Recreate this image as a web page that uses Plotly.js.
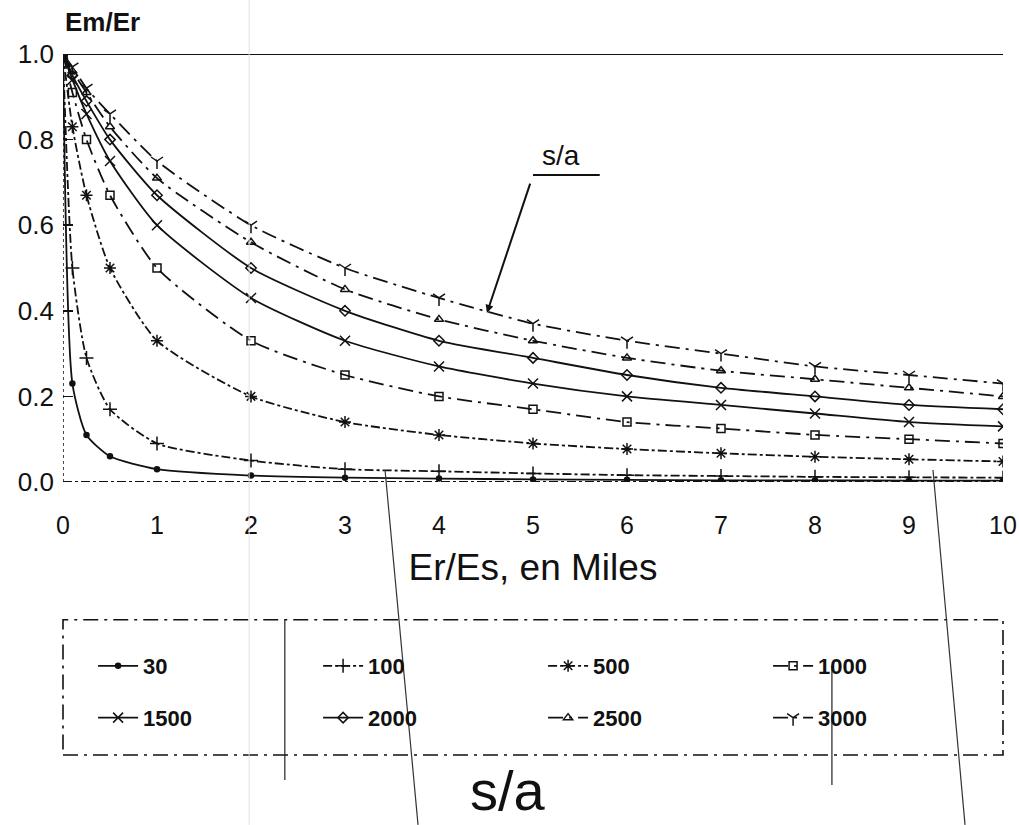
<!DOCTYPE html>
<html>
<head>
<meta charset="utf-8">
<script src="https://cdn.plot.ly/plotly-3.0.1.min.js"></script>
<style>html,body{margin:0;padding:0;background:#fff;}#chart{width:1019px;height:825px;}</style>
</head>
<body>
<div id="chart"></div>
<script>
// Er/Es (thousands)
const erEs = [0, 0.1, 0.25, 0.5, 1, 2, 3, 4, 5, 6, 7, 8, 9, 10];
// Em/Er for each s/a value
const sa30   = [1, 0.23, 0.11, 0.06, 0.03, 0.015, 0.01, 0.008, 0.006, 0.005, 0.004, 0.004, 0.003, 0.003];
const sa100  = [1, 0.50, 0.29, 0.17, 0.09, 0.05, 0.03, 0.025, 0.02, 0.016, 0.014, 0.012, 0.011, 0.01];
const sa500  = [1, 0.83, 0.67, 0.50, 0.33, 0.20, 0.14, 0.11, 0.09, 0.077, 0.067, 0.059, 0.053, 0.048];
const sa1000 = [1, 0.91, 0.80, 0.67, 0.50, 0.33, 0.25, 0.20, 0.17, 0.14, 0.125, 0.11, 0.10, 0.09];
const sa1500 = [1, 0.94, 0.86, 0.75, 0.60, 0.43, 0.33, 0.27, 0.23, 0.20, 0.18, 0.16, 0.14, 0.13];
const sa2000 = [1, 0.95, 0.89, 0.80, 0.67, 0.50, 0.40, 0.33, 0.29, 0.25, 0.22, 0.20, 0.18, 0.17];
const sa2500 = [1, 0.96, 0.91, 0.83, 0.71, 0.56, 0.45, 0.38, 0.33, 0.29, 0.26, 0.24, 0.22, 0.20];
const sa3000 = [1, 0.97, 0.92, 0.86, 0.75, 0.60, 0.50, 0.43, 0.37, 0.33, 0.30, 0.27, 0.25, 0.23];

const seriesNames = ['30', '100', '500', '1000', '1500', '2000', '2500', '3000'];
const seriesData = [sa30, sa100, sa500, sa1000, sa1500, sa2000, sa2500, sa3000];
const yTickVals = [0, 0.2, 0.4, 0.6, 0.8, 1.0];
const xTickVals = [0, 1, 2, 3, 4, 5, 6, 7, 8, 9, 10];

const symbols = ['circle', 'cross-thin-open', 'asterisk-open', 'square-open', 'x-thin-open', 'diamond-open', 'triangle-up-open', 'y-down-open'];
const dashes = ['solid', 'dashdot', 'dashdot', 'longdashdot', 'solid', 'solid', 'longdashdot', 'longdashdot'];
const msizes = [5, 10, 10, 8, 10, 8, 8, 10];

const ink = '#111';
const traces = seriesNames.map((n, i) => ({
  x: erEs, y: seriesData[i], name: n, type: 'scatter', mode: 'lines+markers',
  line: {color: ink, width: 1.8, dash: dashes[i], shape: 'spline', smoothing: 0.6},
  marker: {symbol: symbols[i], size: msizes[i], color: ink, line: {color: ink, width: 1.5}},
  legend: i < 4 ? 'legend' : 'legend2'
}));

const legendBase = {
  orientation: 'h', xanchor: 'left', yanchor: 'middle', x: 0.032,
  entrywidth: 170, entrywidthmode: 'pixels',
  font: {family: 'Liberation Sans, Arial, sans-serif', size: 22, color: ink, weight: 'bold'},
  bgcolor: 'rgba(0,0,0,0)', borderwidth: 0, itemwidth: 40
};

const layout = {
  width: 1019, height: 825,
  margin: {l: 63, r: 16, t: 54, b: 343},
  paper_bgcolor: '#fff', plot_bgcolor: '#fff',
  font: {family: 'Liberation Sans, Arial, sans-serif', color: ink},
  showlegend: true,
  xaxis: {
    range: [0, 10], tickvals: xTickVals, showgrid: false, zeroline: false, showline: false,
    ticks: '', tickfont: {size: 25, color: ink}, ticklabelstandoff: 26,
    title: {text: 'Er/Es, en Miles', font: {size: 37, color: ink}, standoff: 16}
  },
  yaxis: {
    range: [0, 1.0], tickvals: yTickVals, tickformat: '.1f', showgrid: false, zeroline: false, showline: false,
    ticks: 'inside', ticklen: 10, tickwidth: 1.5, tickcolor: ink,
    tickfont: {size: 26, color: ink}, ticklabelstandoff: 8
  },
  legend: Object.assign({}, legendBase, {y: -0.43}),
  legend2: Object.assign({}, legendBase, {y: -0.551}),
  shapes: [
    // axes frame
    {type: 'line', xref: 'x', yref: 'y', x0: 0, x1: 10, y0: 1, y1: 1, line: {color: ink, width: 1.8}},
    {type: 'line', xref: 'x', yref: 'y', x0: 0, x1: 10, y0: 0, y1: 0, line: {color: ink, width: 1.8, dash: 'dashdot'}},
    {type: 'line', xref: 'x', yref: 'y', x0: 0, x1: 0, y0: 0, y1: 1, line: {color: ink, width: 1.5, dash: 'dot'}},
    // s/a leader line
    {type: 'line', xref: 'x', yref: 'y', x0: 5.0, x1: 5.71, y0: 0.717, y1: 0.717, line: {color: ink, width: 2}},
    // legend box
    {type: 'rect', xref: 'paper', yref: 'paper', x0: 0, x1: 1, y0: -0.638, y1: -0.322, line: {color: ink, width: 1.6, dash: 'longdashdot'}},
    // scan artifacts
    {type: 'line', xref: 'paper', yref: 'paper', x0: 0.198, x1: 0.198, y0: 1.126, y1: -0.801, line: {color: '#e2e2e2', width: 1}},
    {type: 'line', xref: 'paper', yref: 'paper', x0: 0.3426, x1: 0.3777, y0: 0.028, y1: -0.801, line: {color: '#333', width: 1.2}},
    {type: 'line', xref: 'paper', yref: 'paper', x0: 0.9255, x1: 0.9596, y0: 0.028, y1: -0.801, line: {color: '#333', width: 1.2}},
    {type: 'line', xref: 'paper', yref: 'paper', x0: 0.236, x1: 0.236, y0: -0.322, y1: -0.696, line: {color: '#222', width: 1.2}},
    {type: 'line', xref: 'paper', yref: 'paper', x0: 0.818, x1: 0.818, y0: -0.428, y1: -0.708, line: {color: '#222', width: 1.2}}
  ],
  annotations: [
    {xref: 'paper', yref: 'paper', x: 0, y: 1.075, xanchor: 'left', yanchor: 'middle', showarrow: false,
     text: 'Em/Er', font: {size: 26, color: ink, weight: 'bold'}},
    {xref: 'x', yref: 'y', x: 5.3, y: 0.722, xanchor: 'center', yanchor: 'bottom', showarrow: false,
     text: 's/a', font: {size: 28, color: ink}},
    {xref: 'x', yref: 'y', x: 4.51, y: 0.395, axref: 'x', ayref: 'y', ax: 5.0, ay: 0.717,
     text: ' ', showarrow: true, arrowhead: 2, arrowsize: 0.8, arrowwidth: 2, arrowcolor: ink, standoff: 0, startstandoff: 0},
    {xref: 'paper', yref: 'paper', x: 0.473, y: -0.72, xanchor: 'center', yanchor: 'middle', showarrow: false,
     text: 's/a', font: {size: 56, color: ink}}
  ]
};

Plotly.newPlot('chart', traces, layout, {displayModeBar: false, staticPlot: true});
</script>
</body>
</html>
